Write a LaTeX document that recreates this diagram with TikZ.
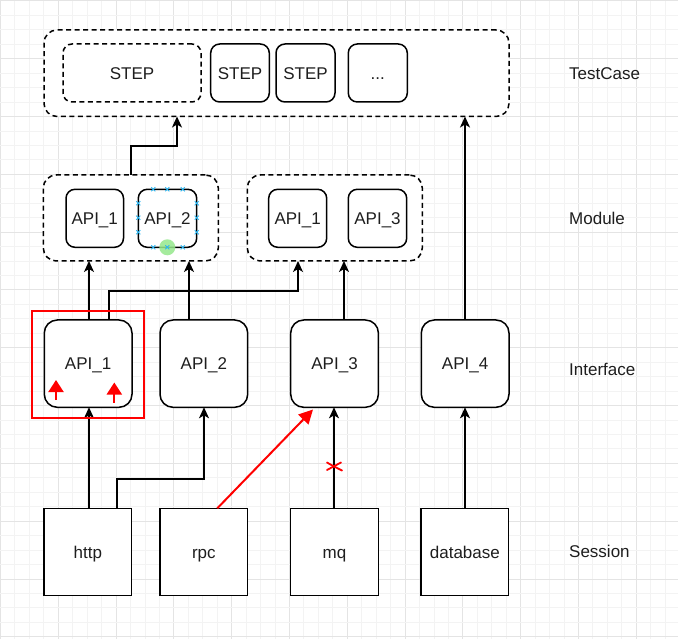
\documentclass[tikz,border=0pt]{standalone}
\usepackage{fontspec}
\setmainfont{Liberation Sans}
\usetikzlibrary{arrows.meta}
\definecolor{gridminor}{RGB}{243,243,243}
\definecolor{gridmajor}{RGB}{228,228,228}
\definecolor{selblue}{RGB}{41,182,242}
\definecolor{selgreen}{RGB}{150,232,140}
\definecolor{txt}{RGB}{30,30,30}
\newcommand{\fs}{\fontsize{17}{20}\selectfont}
\tikzset{
  basebox/.style={draw=black, fill=white, line width=1.5pt, inner sep=0pt, outer sep=0pt,
    anchor=north west, font=\fs, text=txt, text height=12.2pt, text depth=0pt},
  rbox/.style={basebox, rounded corners=#1},
  dbox/.style={basebox, rounded corners=#1, dash pattern=on 5pt off 3.5pt},
  arr/.style={line width=1.6pt, -{Stealth[length=11pt,width=10pt,inset=3pt]}},
  redarr/.style={draw=red, line width=2pt, -{Triangle[length=13pt,width=13pt]}},
  lbl/.style={anchor=west, font=\fs, text=txt, inner sep=0pt, text height=12.2pt, text depth=0pt},
  selmark/.style={draw=selblue, line width=0.9pt},
}
\begin{document}
\begin{tikzpicture}[x=1pt,y=-1pt]
\useasboundingbox (0,0) rectangle (678,639);
\fill[white] (0,0) rectangle (678,639);
% grid
\foreach \i in {0,...,46} {
  \pgfmathsetmacro{\xx}{0.5+14.45*\i}
  \pgfmathtruncatemacro{\mm}{mod(\i,4)}
  \ifnum\mm=0 \draw[gridmajor,line width=1pt] (\xx,0) -- (\xx,639);
  \else \draw[gridminor,line width=1pt] (\xx,0) -- (\xx,639); \fi
}
\foreach \i in {0,...,44} {
  \pgfmathsetmacro{\yy}{1+14.45*\i}
  \pgfmathtruncatemacro{\mm}{mod(\i,4)}
  \ifnum\mm=0 \draw[gridmajor,line width=1pt] (0,\yy) -- (678,\yy);
  \else \draw[gridminor,line width=1pt] (0,\yy) -- (678,\yy); \fi
}

% TestCase layer
\node[dbox=13pt, minimum width=465pt, minimum height=86.5pt] (tc) at (44,30) {};
\node[dbox=9pt, minimum width=138pt, minimum height=58pt] (st1) at (63,44) {STEP};
\node[rbox=9pt, minimum width=58.6pt, minimum height=58pt] (st2) at (210.7,44) {STEP};
\node[rbox=9pt, minimum width=59pt, minimum height=58pt] (st3) at (276,44) {STEP};
\node[rbox=9pt, minimum width=59pt, minimum height=58pt] (st4) at (348.3,44) {...};

% Module layer
\node[dbox=13pt, minimum width=175pt, minimum height=86pt] (mod1) at (43.3,175) {};
\node[dbox=13pt, minimum width=175pt, minimum height=86pt] (mod2) at (247.3,175) {};
\node[rbox=9pt, minimum width=57.5pt, minimum height=58pt] (m1a) at (66,189.3) {API\_1};
\node[rbox=9pt, minimum width=58.4pt, minimum height=58pt] (m1b) at (138.3,189.3) {API\_2};
\node[rbox=9pt, minimum width=58pt, minimum height=58pt] (m2a) at (268.7,189.3) {API\_1};
\node[rbox=9pt, minimum width=58.4pt, minimum height=58pt] (m2b) at (348.3,189.3) {API\_3};

% Interface layer
\node[rbox=13pt, minimum width=87.7pt, minimum height=87.3pt] (i1) at (44.3,320) {API\_1};
\node[rbox=13pt, minimum width=87.7pt, minimum height=87.3pt] (i2) at (160,320) {API\_2};
\node[rbox=13pt, minimum width=87.7pt, minimum height=87.3pt] (i3) at (290.7,320) {API\_3};
\node[rbox=13pt, minimum width=87.7pt, minimum height=87.3pt] (i4) at (421.3,320) {API\_4};

% Session layer
\node[basebox, minimum width=87.7pt, minimum height=87.4pt] (s1) at (44,508.3) {http};
\node[basebox, minimum width=87.7pt, minimum height=87.4pt] (s2) at (160,508.3) {rpc};
\node[basebox, minimum width=87.7pt, minimum height=87.4pt] (s3) at (290.7,508.3) {mq};
\node[basebox, minimum width=87.7pt, minimum height=87.4pt] (s4) at (421,508.3) {database};

% layer labels
\node[lbl] (lt) at (569,73.3) {TestCase};
\node[lbl] (lm) at (569,218) {Module};
\node[lbl] (li) at (569,369.5) {Interface};
\node[lbl] (ls) at (569,551.5) {Session};

% helper coordinates
\coordinate (x131) at (131,0);
\coordinate (k1) at (177,146);
\coordinate (k2) at (109,291);
\coordinate (k3) at (298,291);
\coordinate (x189) at (189,0);
\coordinate (x344) at (344,0);
\coordinate (x89) at (89,0);
\coordinate (k4) at (117,479);
\coordinate (k5) at (204,479);
\coordinate (x217) at (217.3,0);
\coordinate (rpcend) at (313,409.5);
\coordinate (x334) at (334,0);
\coordinate (x465) at (465,0);

% connectors
\draw[arr] (x131 |- mod1.north) |- (k1) -- (k1 |- tc.south);
\draw[arr] (x465 |- i4.north) -- (x465 |- tc.south);
\draw[arr] (x89 |- i1.north) -- (x89 |- mod1.south);
\draw[arr] (k2 |- i1.north) -- (k2) -- (k3) -- (k3 |- mod2.south);
\draw[arr] (x189 |- i2.north) -- (x189 |- mod1.south);
\draw[arr] (x344 |- i3.north) -- (x344 |- mod2.south);
\draw[arr] (x89 |- s1.north) -- (x89 |- i1.south);
\draw[arr] (k4 |- s1.north) -- (k4) -- (k5) -- (k5 |- i2.south);
\draw[arr] (x334 |- s3.north) -- (x334 |- i3.south);
\draw[arr] (x465 |- s4.north) -- (x465 |- i4.south);
\draw[redarr, -{Triangle[length=14pt,width=14pt]}] (x217 |- s2.north) -- (rpcend);

% red cross on mq connector
\draw[red, line width=1.8pt, line cap=round] (327,462.5) .. controls (333,466) .. (342,470.5);
\draw[red, line width=1.8pt, line cap=round] (327,470) .. controls (334,466.5) .. (341,462.5);

% red highlight around interface API_1
\draw[red, line width=2pt] (31.7,311.5) rectangle (143.5,418.3);
\coordinate (ra1) at (56,400);
\coordinate (ra2) at (114.3,402.5);
\draw[redarr, -{Triangle[length=12pt,width=15pt]}] (ra1) -- ++(0,-20);
\draw[redarr, -{Triangle[length=12pt,width=15pt]}] (ra2) -- ++(0,-20);

% selection handles on module API_2
\fill[selgreen, opacity=0.85] (167.3,247.3) circle (8pt);
\foreach \p in {(153.3,189.3),(167.3,189.3),(182.7,189.3),
                (153.3,247.3),(167.3,247.3),(182.7,247.3),
                (138.3,203.3),(138.3,217.7),(138.3,232.3),
                (196.7,203.3),(196.7,217.7),(196.7,232.3)} {
  \draw[selmark] \p ++(-2,-2) -- ++(4,4);
  \draw[selmark] \p ++(-2,2) -- ++(4,-4);
}
\end{tikzpicture}
\end{document}
